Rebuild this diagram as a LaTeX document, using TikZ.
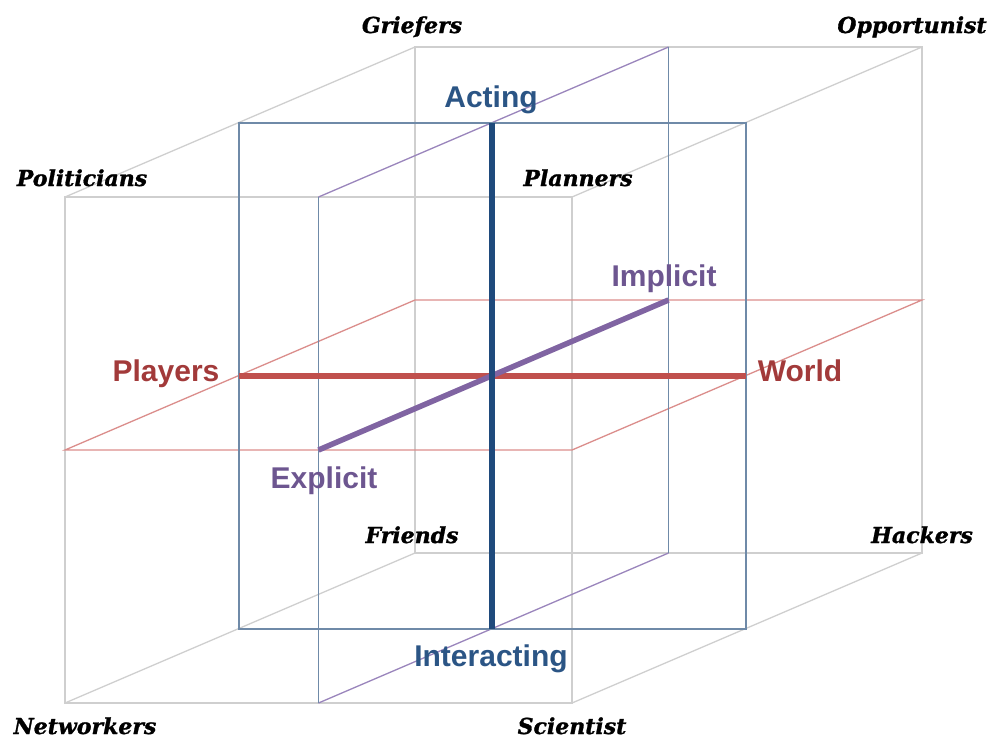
\documentclass[tikz,border=0pt]{standalone}
\usepackage{fontspec}
\newfontfamily\cornerfont{DejaVu Serif}[BoldItalicFeatures={FakeBold=1.2}]
\newfontfamily\axisfont{Liberation Sans}
\definecolor{cubegray}{HTML}{CFCFCF}
\definecolor{planeblue}{HTML}{6F8AA8}
\definecolor{axisblue}{HTML}{1F4A7C}
\definecolor{textblue}{HTML}{2B5585}
\definecolor{planered}{HTML}{DB8E8C}
\definecolor{axisred}{HTML}{C0504D}
\definecolor{textred}{HTML}{A23A3A}
\definecolor{planepurple}{HTML}{9A85BC}
\definecolor{axispurple}{HTML}{8064A2}
\definecolor{textpurple}{HTML}{6D5690}
\tikzset{
  cubeedge/.style={draw=cubegray, line width=1.3pt},
  blueedge/.style={draw=planeblue, line width=1.8pt},
  rededge/.style={draw=planered, line width=1.3pt},
  purpleedge/.style={draw=planepurple, line width=1.3pt},
  axisline/.style={line width=5.5pt},
  cornerlabel/.style={anchor=base, inner sep=0pt, font=\cornerfont\bfseries\itshape\fontsize{22}{26}\selectfont, text=black},
  axislabel/.style={anchor=base, inner sep=0pt, font=\axisfont\bfseries\fontsize{30}{34}\selectfont},
}
\begin{document}
\begin{tikzpicture}[x=1pt, y=-1pt]
\useasboundingbox (0,0) rectangle (990,740);
% outer cube
\coordinate (F00) at (65,703);
\coordinate (F10) at (572,703);
\coordinate (F01) at (65,197);
\coordinate (F11) at (572,197);
\coordinate (B00) at (415,553);
\coordinate (B10) at (922,553);
\coordinate (B01) at (415,47);
\coordinate (B11) at (922,47);
% mid-depth plane
\coordinate (M00) at (239,629);
\coordinate (M10) at (746,629);
\coordinate (M01) at (239,123);
\coordinate (M11) at (746,123);
% mid-width plane
\coordinate (P0b) at (318.5,703);
\coordinate (P0t) at (318.5,197);
\coordinate (P1b) at (668.5,553);
\coordinate (P1t) at (668.5,47);
% mid-height plane
\coordinate (R00) at (65,450);
\coordinate (R10) at (572,450);
\coordinate (R11) at (922,300);
\coordinate (R01) at (415,300);
% axis ends
\coordinate (At) at (492,123);
\coordinate (Ab) at (492,629);
\coordinate (Pl) at (239,376);
\coordinate (Wr) at (746,376);
\coordinate (Ex) at (318.5,450);
\coordinate (Im) at (668.5,300);

% cube edges
\draw[cubeedge] (F00) -- (F10) -- (F11) -- (F01) -- cycle;
\draw[cubeedge] (B00) -- (B10) -- (B11) -- (B01) -- cycle;
\draw[cubeedge] (F00) -- (B00);
\draw[cubeedge] (F10) -- (B10);
\draw[cubeedge] (F01) -- (B01);
\draw[cubeedge] (F11) -- (B11);

% red plane
\draw[rededge] (R00) -- (R10) -- (R11) -- (R01) -- cycle;
% purple plane
\draw[purpleedge] (P0b) -- (P1b);
\draw[purpleedge] (P0t) -- (P1t);
\draw[blueedge] (P0b) -- (P0t);
\draw[blueedge] (P1b) -- (P1t);
% blue plane
\draw[blueedge] (M00) -- (M10) -- (M11) -- (M01) -- cycle;

% axes
\draw[axisline, draw=axisred] (Pl) -- (Wr);
\draw[axisline, draw=axispurple] (Ex) -- (Im);
\draw[axisline, draw=axisblue] (Ab) -- (At);

% axis labels
\node[axislabel, text=textblue] (acting) at (491,107) {Acting};
\node[axislabel, text=textblue] (interacting) at (491,666) {Interacting};
\node[axislabel, text=textred] (players) at (166,381) {Players};
\node[axislabel, text=textred] (world) at (800,381) {World};
\node[axislabel, text=textpurple] (implicit) at (664,286) {Implicit};
\node[axislabel, text=textpurple] (explicit) at (324,488) {Explicit};

% corner labels
\node[cornerlabel] (griefers) at (412,33) {Griefers};
\node[cornerlabel] (opportunist) at (912,33) {Opportunist};
\node[cornerlabel] (politicians) at (82,186) {Politicians};
\node[cornerlabel] (planners) at (578,186) {Planners};
\node[cornerlabel] (friends) at (412,543) {Friends};
\node[cornerlabel] (hackers) at (922,543) {Hackers};
\node[cornerlabel] (networkers) at (85,734) {Networkers};
\node[cornerlabel] (scientist) at (572,734) {Scientist};
\end{tikzpicture}
\end{document}
